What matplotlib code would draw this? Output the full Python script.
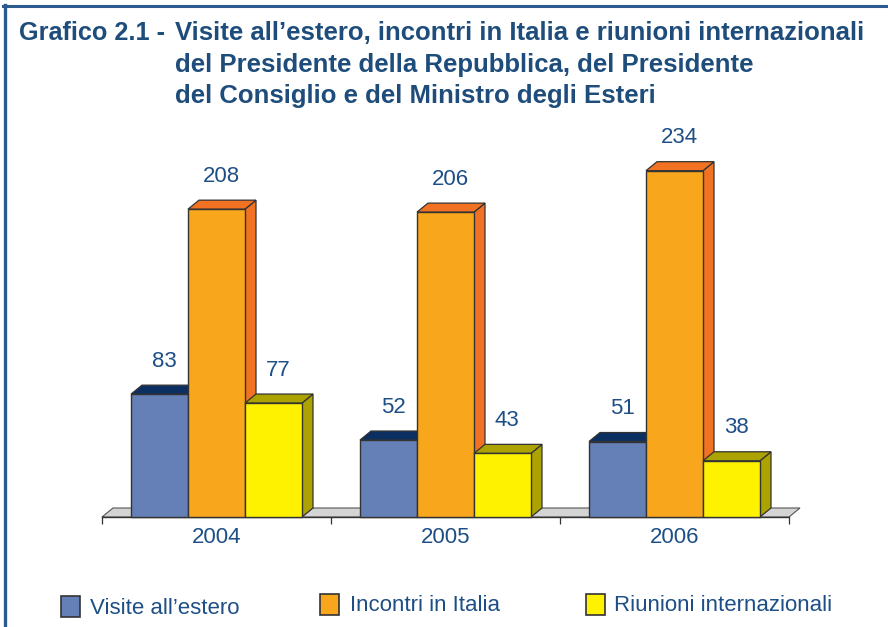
import matplotlib
matplotlib.use('Agg')
import matplotlib.pyplot as plt
from matplotlib.patches import Polygon, Rectangle
from matplotlib.lines import Line2D

# data
years = ['2004', '2005', '2006']
series = ['Visite all\u2019estero', 'Incontri in Italia', 'Riunioni internazionali']
visite = [83, 52, 51]
incontri = [208, 206, 234]
riunioni = [77, 43, 38]
values = [visite, incontri, riunioni]

title_head = 'Grafico 2.1 -'
title_lines = ['Visite all\u2019estero, incontri in Italia e riunioni internazionali',
               'del Presidente della Repubblica, del Presidente',
               'del Consiglio e del Ministro degli Esteri']

# colours
front_colors = ['#6580b6', '#f8a61c', '#fff200']
shade_colors = ['#0c2f62', '#f27223', '#ada300']
text_blue = '#1d4f86'
title_blue = '#1e4d7c'
border_blue = '#2b5b8e'
edge = '#333333'

W, H, DPI = 888, 627, 100


def fx(px):
    return px / W


def fy(py):
    return 1 - py / H


plt.rcParams['font.family'] = ['Liberation Sans', 'DejaVu Sans']

fig = plt.figure(figsize=(W / DPI, H / DPI), dpi=DPI)
fig.patch.set_facecolor('white')

# plot area: 229 px per group, 1.48 px per unit
ax = fig.add_axes([fx(102), fy(517), 687 / W, 387 / H])
ax.set_xlim(-0.5, 2.5)
ax.set_ylim(0, 387 / 1.48)
ax.axis('off')

bw = 57 / 229          # bar width in group units
dx = 11 / 229          # depth offset (x)
dy = 9 / 1.48          # depth offset (y, data units)

# floor
n = len(years)
floor = Polygon([(-0.5, 0), (n - 0.5, 0), (n - 0.5 + dx, dy), (-0.5 + dx, dy)],
                closed=True, facecolor='#d4d4d4', edgecolor='#555555', lw=0.8,
                clip_on=False, zorder=1)
ax.add_patch(floor)
ax.plot([-0.5, n - 0.5], [0, 0], color=edge, lw=1, clip_on=False, zorder=1.5)
ax.vlines([i - 0.5 for i in range(n + 1)], -7 / 1.48, 0, color=edge, lw=0.9,
          clip_on=False, zorder=1.5)

for g in range(n):
    for s, vals in enumerate(values):
        v = vals[g]
        x0 = g + (s - 1) * bw - bw / 2
        z = 2 + g * 10 + s * 3
        side = Polygon([(x0 + bw, 0), (x0 + bw + dx, dy), (x0 + bw + dx, v + dy), (x0 + bw, v)],
                       closed=True, facecolor=shade_colors[s], edgecolor=edge, lw=0.9,
                       clip_on=False, zorder=z)
        top = Polygon([(x0, v), (x0 + dx, v + dy), (x0 + bw + dx, v + dy), (x0 + bw, v)],
                      closed=True, facecolor=shade_colors[s], edgecolor=edge, lw=0.9,
                      clip_on=False, zorder=z + 1)
        ax.add_patch(side)
        ax.add_patch(top)
        ax.bar(x0, v, width=bw, align='edge', color=front_colors[s], edgecolor=edge,
               lw=1, zorder=z + 2, clip_on=False)
        ax.text(x0 + bw / 2 + 0.02, v + 18.5, str(v), ha='center', va='baseline',
                fontsize=16, color=text_blue, zorder=50)
    ax.text(g, -26 / 1.48, years[g], ha='center', va='baseline', fontsize=16,
            color=text_blue)

# title
fig.text(fx(19), fy(40.5), title_head, fontsize=18.2, fontweight='bold',
         color=title_blue, va='baseline', ha='left')
for line, base in zip(title_lines, [40.5, 72, 102.5]):
    fig.text(fx(175), fy(base), line, fontsize=18.55, fontweight='bold',
             color=title_blue, va='baseline', ha='left')

# legend
leg_boxes = [(61, 596), (320, 594), (586, 594)]
leg_text = [(90, 614), (350, 611), (614, 611)]
for s, name in enumerate(series):
    bx, by = leg_boxes[s]
    fig.add_artist(Rectangle((fx(bx), fy(by + 21)), 19 / W, 21 / H,
                             transform=fig.transFigure, facecolor=front_colors[s],
                             edgecolor=edge, lw=1.2))
    tx, ty = leg_text[s]
    fig.text(fx(tx), fy(ty), name, fontsize=16, color=text_blue, va='baseline', ha='left')

# frame lines (top and left)
fig.add_artist(Line2D([fx(3), 1], [fy(6), fy(6)], transform=fig.transFigure,
                      color=border_blue, lw=2.2))
fig.add_artist(Line2D([fx(4.5), fx(4.5)], [fy(5), 0], transform=fig.transFigure,
                      color=border_blue, lw=2.4))

fig.savefig('out.png', dpi=DPI)
